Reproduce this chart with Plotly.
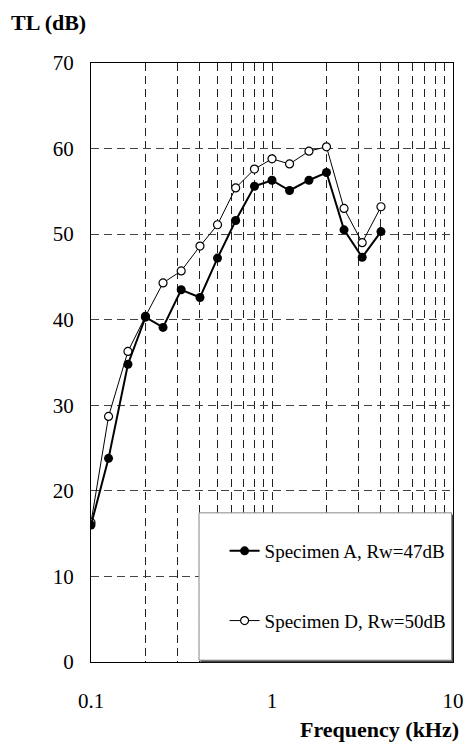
import plotly.graph_objects as go

# 1/3-octave band centre frequencies (kHz)
freq = [0.1, 0.125, 0.16, 0.2, 0.25, 0.315, 0.4, 0.5, 0.63, 0.8,
        1, 1.25, 1.6, 2, 2.5, 3.15, 4]
# Transmission loss (dB)
tl_a = [16.0, 23.8, 34.8, 40.3, 39.1, 43.5, 42.6, 47.2, 51.6, 55.6,
        56.3, 55.1, 56.3, 57.2, 50.5, 47.3, 50.3]
tl_d = [16.3, 28.7, 36.3, 40.4, 44.3, 45.7, 48.6, 51.1, 55.4, 57.6,
        58.8, 58.2, 59.7, 60.2, 53.0, 49.0, 53.2]

name_a = "Specimen A, Rw=47dB"
name_d = "Specimen D, Rw=50dB"

x_tickvals = [0.1, 1, 10]
x_ticktext = ["0.1", "1", "10"]
x_minor = [0.2, 0.3, 0.4, 0.5, 0.6, 0.7, 0.8, 0.9, 2, 3, 4, 5, 6, 7, 8, 9]
y_tickvals = [0, 10, 20, 30, 40, 50, 60, 70]

FONT = "Liberation Serif"

fig = go.Figure()
fig.add_trace(go.Scatter(
    x=freq, y=tl_d, name=name_d, mode="lines+markers", legendgroup="d",
    line=dict(color="black", width=1),
    marker=dict(symbol="circle", size=8, color="white",
                line=dict(color="black", width=1.2)),
    legendrank=2,
))
fig.add_trace(go.Scatter(
    x=freq, y=tl_a, name=name_a, mode="lines+markers", legendgroup="a",
    line=dict(color="black", width=2),
    marker=dict(symbol="circle", size=9, color="black"),
    legendrank=1,
))

# legend box (shadow + white box)
fig.add_shape(type="rect", xref="paper", yref="paper",
              x0=0.3025, x1=1.0005, y0=-0.0005, y1=0.246,
              line=dict(width=0), fillcolor="#444", layer="above")
fig.add_shape(type="rect", xref="paper", yref="paper",
              x0=0.2984, x1=0.996, y0=0.003, y1=0.249,
              line=dict(color="#888", width=1), fillcolor="white", layer="above")

fig.add_annotation(text="TL (dB)", xref="paper", yref="paper",
                   x=-0.2265, y=1.0668, xanchor="left", yanchor="middle",
                   showarrow=False,
                   font=dict(family=FONT, size=22, color="black", weight="bold"))
fig.add_annotation(text="Frequency (kHz)", xref="paper", yref="paper",
                   x=1.0216, y=-0.1135, xanchor="right", yanchor="middle",
                   showarrow=False,
                   font=dict(family=FONT, size=22, color="black", weight="bold"))

grid_dash = "8px,5px"
fig.update_layout(
    width=476, height=742,
    margin=dict(l=91, r=14, t=63, b=80),
    paper_bgcolor="white", plot_bgcolor="white",
    font=dict(family=FONT, size=21, color="black"),
    showlegend=True,
    legend=dict(x=0.369, y=0.217, xanchor="left", yanchor="top",
                bgcolor="rgba(0,0,0,0)", borderwidth=0,
                font=dict(family=FONT, size=19, color="black"),
                traceorder="grouped", tracegroupgap=42),
    xaxis=dict(type="log", range=[-1, 1], tickvals=x_tickvals, ticktext=x_ticktext,
               showline=True, linecolor="black", linewidth=1.3, mirror=True,
               ticks="", ticklabelstandoff=20,
               showgrid=True, gridcolor="#222", gridwidth=1, griddash=grid_dash,
               minor=dict(tickvals=x_minor, showgrid=True, gridcolor="#222",
                          gridwidth=1, griddash=grid_dash, ticks=""),
               zeroline=False, layer="above traces"),
    yaxis=dict(range=[0, 70], tickvals=y_tickvals,
               showline=True, linecolor="black", linewidth=1.3, mirror=True,
               ticks="", ticklabelstandoff=12,
               showgrid=True, gridcolor="#444", gridwidth=1, griddash=grid_dash,
               zeroline=False, layer="above traces"),
)

fig.write_html("out.html", config={"displayModeBar": False},
               post_script="document.body.style.margin='0';"
                           "document.documentElement.style.overflow='hidden';")
